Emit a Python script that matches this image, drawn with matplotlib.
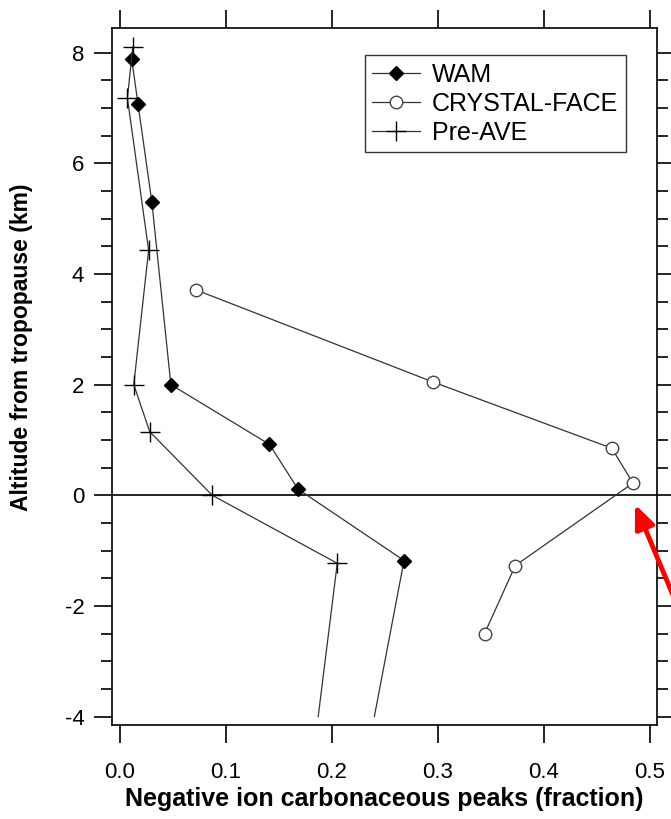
import numpy as np
import matplotlib
matplotlib.use("Agg")
import matplotlib.pyplot as plt
from matplotlib.ticker import MultipleLocator, FormatStrFormatter

plt.rcParams['font.family'] = ['Liberation Sans', 'DejaVu Sans']

# WAM (filled diamonds); the tail goes on to -4 km without a marker
wam_x = [0.011, 0.017, 0.030, 0.048, 0.141, 0.168, 0.268]
wam_y = [7.89, 7.07, 5.31, 2.00, 0.92, 0.11, -1.18]
wam_tail_x = [0.268, 0.240]
wam_tail_y = [-1.18, -4.0]

# CRYSTAL-FACE (open circles)
cf_x = [0.072, 0.295, 0.464, 0.484, 0.373, 0.344]
cf_y = [3.71, 2.05, 0.85, 0.22, -1.27, -2.50]

# Pre-AVE (crosses)
pre_x = [0.012, 0.007, 0.027, 0.013, 0.028, 0.087, 0.205]
pre_y = [8.10, 7.18, 4.43, 2.00, 1.15, 0.00, -1.23]
pre_tail_x = [0.205, 0.187]
pre_tail_y = [-1.23, -4.0]

fig = plt.figure(figsize=(6.71, 8.19), dpi=100)
ax = fig.add_axes([0.167, 0.115, 0.812, 0.851])

lc = '#333333'
ax.axhline(0, color='black', lw=1.2, zorder=1)

ax.plot(wam_x, wam_y, '-', color=lc, lw=0.9, marker='D', ms=7,
        mfc='black', mec='black', label='WAM', zorder=3)
ax.plot(wam_tail_x, wam_tail_y, '-', color=lc, lw=0.9, zorder=2)
ax.plot(cf_x, cf_y, '-', color=lc, lw=0.9, marker='o', ms=9,
        mfc='white', mec='#444444', mew=1.0, label='CRYSTAL-FACE', zorder=3)
ax.plot(pre_x, pre_y, '-', color=lc, lw=0.9, marker='+', ms=14,
        mec='black', mew=1.0, label='Pre-AVE', zorder=3)
ax.plot(pre_tail_x, pre_tail_y, '-', color=lc, lw=0.9, zorder=2)

ax.set_xlim(-0.0075, 0.5066)
ax.set_ylim(-4.15, 8.45)
ax.xaxis.set_major_locator(MultipleLocator(0.1))
ax.yaxis.set_major_locator(MultipleLocator(2))
ax.yaxis.set_minor_locator(MultipleLocator(0.5))
ax.xaxis.set_major_formatter(FormatStrFormatter('%.1f'))
ax.yaxis.set_major_formatter(FormatStrFormatter('%d'))

ax.tick_params(which='major', direction='out', length=13, width=1.2,
               labelsize=16, top=True, right=True)
ax.tick_params(axis='y', which='major', pad=7)
ax.tick_params(axis='x', which='major', pad=14)
ax.tick_params(which='minor', direction='out', length=8, width=1.2,
               right=True)
for s in ax.spines.values():
    s.set_linewidth(1.2)

ax.set_xlabel('Negative ion carbonaceous peaks (fraction)', fontsize=18,
              fontweight='bold', labelpad=3)
ax.set_ylabel('Altitude from tropopause (km)', fontsize=16.5,
              fontweight='bold')
ax.yaxis.set_label_coords(-0.145, 0.542)

leg = ax.legend(loc='upper right', bbox_to_anchor=(0.943, 0.961),
                borderaxespad=0, fontsize=18, frameon=True, fancybox=False,
                handlelength=1.9, borderpad=0.3, labelspacing=0.2,
                handletextpad=0.5)
leg.get_frame().set_edgecolor('black')
leg.get_frame().set_linewidth(1.0)

# red arrow pointing at the tropopause crossing
ax.annotate('', xy=(0.485, -0.12), xycoords='data',
            xytext=(700, 159), textcoords='figure pixels',
            arrowprops=dict(arrowstyle='-|>,head_length=1.4,head_width=0.6',
                            color='red', lw=3.5),
            annotation_clip=False)

fig.savefig('out.png', dpi=100)
